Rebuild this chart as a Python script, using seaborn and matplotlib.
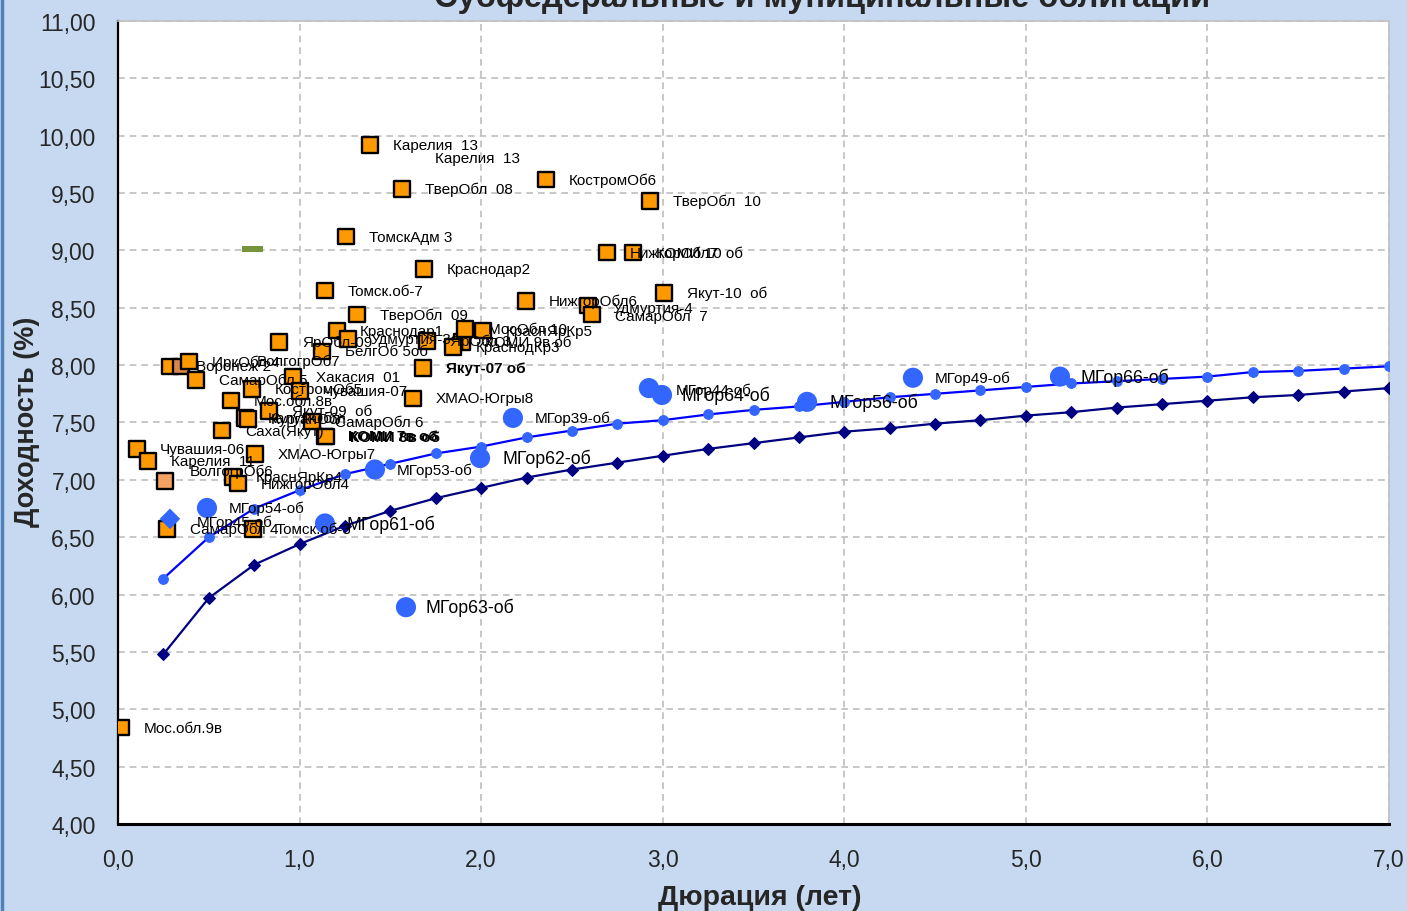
import numpy as np
import pandas as pd
import matplotlib
matplotlib.use("Agg")
import matplotlib.pyplot as plt
from matplotlib.lines import Line2D
from matplotlib import font_manager as fm
import seaborn as sns

# ---------------- data ----------------
curve_dur = [0.25, 0.5, 0.75, 1.0, 1.25, 1.5, 1.75, 2.0, 2.25, 2.5, 2.75, 3.0, 3.25, 3.5,
             3.75, 4.0, 4.25, 4.5, 4.75, 5.0, 5.25, 5.5, 5.75, 6.0, 6.25, 6.5, 6.75, 7.0]
curve_upper = [6.14, 6.50, 6.75, 6.91, 7.05, 7.14, 7.23, 7.29, 7.37, 7.43, 7.49, 7.52, 7.57, 7.61,
               7.64, 7.68, 7.72, 7.75, 7.78, 7.81, 7.84, 7.86, 7.88, 7.90, 7.94, 7.95, 7.97, 7.99]
curve_lower = [5.48, 5.97, 6.26, 6.44, 6.60, 6.73, 6.84, 6.93, 7.02, 7.09, 7.15, 7.21, 7.27, 7.32,
               7.37, 7.42, 7.45, 7.49, 7.52, 7.56, 7.59, 7.63, 7.66, 7.69, 7.72, 7.74, 7.77, 7.80]

sub_names = ["Карелия  13", "ТверОбл  08", "КостромОб6", "ТверОбл  10", "ТомскАдм 3",
             "Краснодар2", "НижгорОбл7", "КОМИ 10 об", "Якут-10  об", "НижгорОбл6",
             "Удмуртия-4", "СамарОбл  7", "Томск.об-7", "ТверОбл  09", "ЯрОбл-09",
             "Краснодар1", "Удмуртия-3", "БелгОб 5об", "ЯрОбл 3", "КОМИ 9в об",
             "МосОбл 10", "КраснЯрКр5", "КраснодКр3", "Якут-07 об", "ХМАО-Югры8",
             "Воронеж 2", "ВолгогрОб7", "ИркОбл 4", "СамарОбл 5", "Хакасия  01",
             "КостромОб5", "Чувашия-07", "Мос.обл.8в", "Якут-09  об", "КалужОбл",
             "КурганОбл", "СамарОбл 6", "Саха(Якут)", "КОМИ 7в об", "КОМИ 8в об",
             "Чувашия-06", "Карелия  11", "ХМАО-Югры7", "ВолгогрОб6", "КраснЯрКр4",
             "НижгорОбл4", "СамарОбл 4", "Томск.об-3", "Мос.обл.9в"]
sub_dur = [1.388, 1.564, 2.357, 2.930, 1.256,
           1.685, 2.693, 2.836, 3.007, 2.247,
           2.589, 2.611, 1.140, 1.316, 0.887,
           1.206, 1.267, 1.124, 1.702, 1.895,
           1.911, 2.010, 1.845, 1.680, 1.625,
           0.286, 0.347, 0.391, 0.430, 0.964,
           0.738, 1.002, 0.622, 0.832, 0.699,
           0.716, 1.068, 0.573, 1.140, 1.146,
           0.105, 0.165, 0.755, 0.259, 0.633,
           0.661, 0.270, 0.743, 0.017]
sub_yield = [9.92, 9.535, 9.62, 9.43, 9.12,
             8.84, 8.98, 8.98, 8.63, 8.56,
             8.52, 8.44, 8.65, 8.44, 8.20,
             8.30, 8.23, 8.12, 8.21, 8.20,
             8.315, 8.30, 8.16, 7.975, 7.71,
             7.99, 7.99, 8.03, 7.87, 7.90,
             7.79, 7.775, 7.69, 7.60, 7.54,
             7.53, 7.51, 7.43, 7.38, 7.38,
             7.27, 7.165, 7.225, 6.99, 7.025,
             6.97, 6.57, 6.57, 4.84]
sub_kind = ["main"] * 26 + ["brown"] + ["main"] * 16 + ["light"] + ["main"] * 5

mgor_names = ["МГор63-об", "МГор61-об", "МГор54-об", "МГор53-об", "МГор62-об", "МГор39-об",
              "МГор44-об", "МГор64-об", "МГор56-об", "МГор49-об", "МГор66-об"]
mgor_dur = [1.586, 1.140, 0.490, 1.415, 1.994, 2.175, 2.924, 2.996, 3.795, 4.378, 5.188]
mgor_yield = [5.89, 6.62, 6.755, 7.09, 7.19, 7.54, 7.80, 7.74, 7.68, 7.89, 7.90]
mgor_big_label = [True, True, False, False, True, False, False, True, True, False, True]

diam_names = ["МГор45-об"]
diam_dur = [0.286]
diam_yield = [6.66]

green_dur = [0.743]
green_yield = [9.01]

# ---------------- style ----------------
sns.set_theme(style="white")
avail = {f.name for f in fm.fontManager.ttflist}
narrow = "Liberation Sans Narrow" if "Liberation Sans Narrow" in avail else "Liberation Sans"
plt.rcParams["font.family"] = ["Liberation Sans", "DejaVu Sans"]

BG = "#C6D9F1"
fig = plt.figure(figsize=(14.07, 9.12), dpi=100, facecolor=BG)
ax = fig.add_axes([118 / 1407, 1 - 825 / 912, (1389 - 118) / 1407, (825 - 22) / 912])
ax.set_facecolor("white")

ax.set_xlim(0, 7)
ax.set_ylim(4, 11)
ax.set_xticks(np.arange(0, 7.01, 1.0))
ax.set_yticks(np.arange(4, 11.01, 0.5))
ax.set_xticklabels([f"{v:.1f}".replace(".", ",") for v in np.arange(0, 7.01, 1.0)])
ax.set_yticklabels([f"{v:.2f}".replace(".", ",") for v in np.arange(4, 11.01, 0.5)])
ax.grid(True, color="#BDBDBD", linestyle=(0, (4, 3)), linewidth=1.2)
ax.set_axisbelow(True)
ax.tick_params(axis="y", direction="out", length=6, width=1.5, color="black", pad=10)
ax.tick_params(axis="x", direction="out", length=7, width=1.5, color="black", pad=10)
for lab in ax.get_xticklabels() + ax.get_yticklabels():
    lab.set_family([narrow, "DejaVu Sans"])
    lab.set_fontsize(16.5)

ax.spines["left"].set_color("black")
ax.spines["left"].set_linewidth(1.6)
ax.spines["bottom"].set_color("black")
ax.spines["bottom"].set_linewidth(2.2)
for s in ["top", "right"]:
    ax.spines[s].set_color("#BFBFBF")
    ax.spines[s].set_linewidth(1.2)

# curves
sns.lineplot(x=curve_dur, y=curve_lower, ax=ax, color="#000080", linewidth=1.6, marker="D",
             markersize=6.5, markerfacecolor="#000080", markeredgecolor="#000080", sort=False,
             legend=False, zorder=3)
sns.lineplot(x=curve_dur, y=curve_upper, ax=ax, color="#0000FF", linewidth=1.6, marker="o",
             markersize=7, markerfacecolor="#3366FF", markeredgecolor="#3366FF", sort=False,
             legend=False, zorder=3)

# sub-federal bonds
df_sub = pd.DataFrame({"dur": sub_dur, "yld": sub_yield, "kind": sub_kind, "name": sub_names})
sns.scatterplot(data=df_sub, x="dur", y="yld", hue="kind", marker="s", s=125,
                palette={"main": "#FF9900", "brown": "#D9864A", "light": "#F4A262"},
                edgecolor="black", linewidth=1.7, legend=False, ax=ax, zorder=4)

# Moscow city bonds
sns.scatterplot(x=mgor_dur, y=mgor_yield, ax=ax, color="#3366FF", s=210, edgecolor="none",
                legend=False, zorder=5)
sns.scatterplot(x=diam_dur, y=diam_yield, ax=ax, color="#3366FF", marker="D", s=110,
                edgecolor="none", legend=False, zorder=5)
dash = [(-1, -0.3), (1, -0.3), (1, 0.3), (-1, 0.3), (-1, -0.3)]
sns.scatterplot(x=green_dur, y=green_yield, ax=ax, color="#77933C", marker=dash, s=230,
                edgecolor="none", legend=False, zorder=5)

ax.set_xlabel("")
ax.set_ylabel("")

# ---------------- labels ----------------
custom_off = {
    "ВолгогрОб7": (76, 6),
    "ВолгогрОб6": (25, 10),
    "Воронеж 2": (26, 0),
    "СамарОбл  7": (23, -1),
    "Удмуртия-4": (25, -3),
    "КОМИ 8в об": (24, -1),
}
bold_names = {"Якут-07 об", "КОМИ 7в об", "КОМИ 8в об"}
for n, x, y in zip(sub_names, sub_dur, sub_yield):
    dx, dy = custom_off.get(n, (23, 0))
    ax.annotate(n, (x, y), xytext=(dx, dy), textcoords="offset pixels", ha="left", va="center",
                fontsize=11, fontweight="bold" if n in bold_names else "normal",
                color="black", zorder=7)
# second copy of a label seen in the source
ax.annotate("Карелия  13", (sub_dur[0], sub_yield[0]), xytext=(65, -13), textcoords="offset pixels",
            ha="left", va="center", fontsize=11, color="black", zorder=7)

mg_off = {"МГор44-об": (27, -2), "МГор64-об": (20, 0), "МГор66-об": (21, 0), "МГор63-об": (20, 0)}
for n, x, y, big in zip(mgor_names, mgor_dur, mgor_yield, mgor_big_label):
    dx, dy = mg_off.get(n, (22, 0))
    ax.annotate(n, (x, y), xytext=(dx, dy), textcoords="offset pixels", ha="left", va="center",
                fontsize=12.8 if big else 11, color="black", zorder=7)
for n, x, y in zip(diam_names, diam_dur, diam_yield):
    ax.annotate(n, (x, y), xytext=(27, -3), textcoords="offset pixels", ha="left", va="center",
                fontsize=11, color="black", zorder=7)

# ---------------- titles ----------------
fig.text(822 / 1407, 1 - 7 / 912, "Субфедеральные и муниципальные облигации", ha="center",
         va="baseline", fontsize=23.5, fontweight="bold", family=[narrow, "DejaVu Sans"])
fig.text(27 / 1407, 1 - 422 / 912, "Доходность (%)", rotation=90, ha="center", va="center",
         fontsize=19.5, fontweight="bold", family=[narrow, "DejaVu Sans"])
fig.text(760 / 1407, 1 - 898 / 912, "Дюрация (лет)", ha="center", va="center",
         fontsize=20.5, fontweight="bold", family=[narrow, "DejaVu Sans"])

fig.add_artist(Line2D([0.0012, 0.0012], [0, 1], transform=fig.transFigure, color="#4F81BD", lw=2.5))

fig.savefig("out.png", dpi=100, facecolor=BG)
